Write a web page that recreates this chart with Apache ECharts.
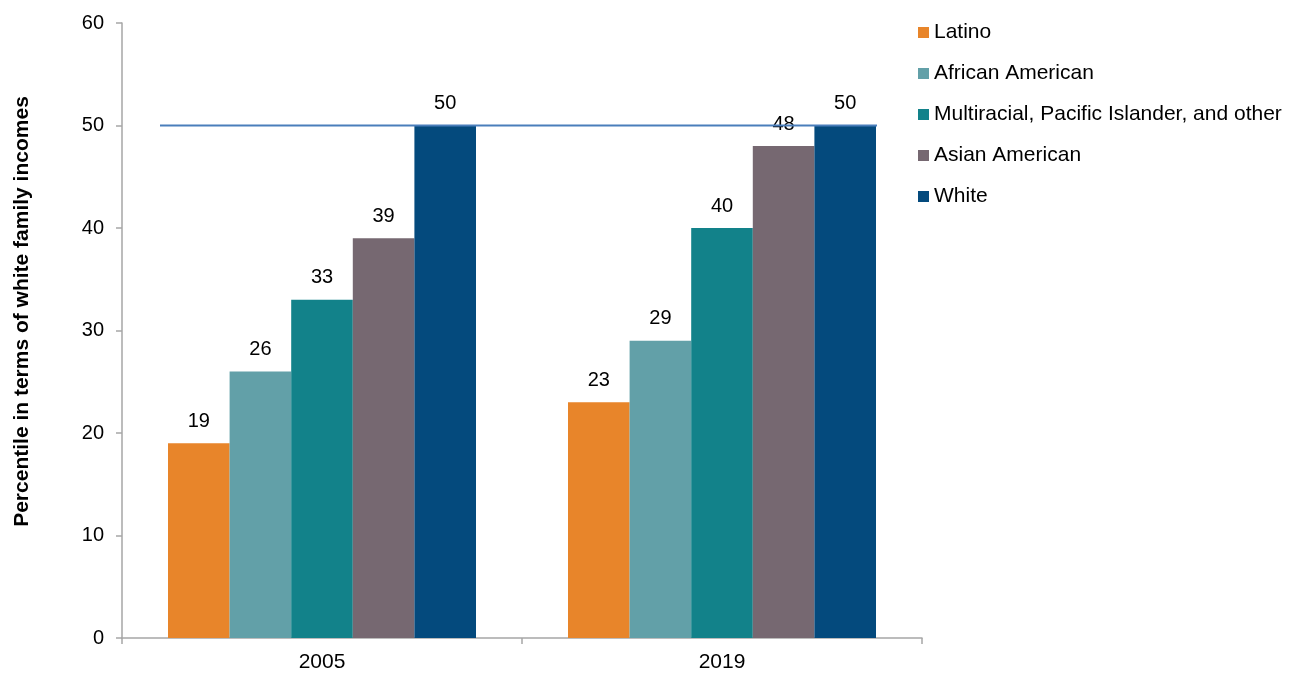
<!DOCTYPE html>
<html><head><meta charset="utf-8">
<script src="https://cdn.jsdelivr.net/npm/echarts@6/dist/echarts.min.js"></script>
<style>html,body{margin:0;padding:0;background:#fff}#c{width:1291px;height:673px}</style>
</head><body><div id="c"></div>
<script>
const years = ['2005', '2019'];
const seriesNames = ['Latino', 'African American', 'Multiracial, Pacific Islander, and other', 'Asian American', 'White'];
const latino = [19, 23];
const africanAmerican = [26, 29];
const multiracial = [33, 40];
const asianAmerican = [39, 48];
const white = [50, 50];
const yTicks = [0, 10, 20, 30, 40, 50, 60];
const referenceLevel = 50;
const referenceSpan = [-0.405, 1.3875];

const colors = ['#E8852A', '#62A0A8', '#12828A', '#766871', '#044A7D'];
const values = [latino, africanAmerican, multiracial, asianAmerican, white];
const font = 'Liberation Sans, Arial, sans-serif';

const chart = echarts.init(document.getElementById('c'), null, {renderer: 'canvas'});
const series = seriesNames.map((n, i) => ({
  name: n, type: 'bar', data: values[i], xAxisIndex: 0,
  barGap: '0%', barCategoryGap: '23%',
  itemStyle: {color: colors[i]},
  label: {show: true, position: 'top', distance: 12, color: '#000', fontSize: 20, fontFamily: font},
  z: 2
}));
series.push({
  type: 'line', xAxisIndex: 1, data: referenceSpan.map(x => [x, referenceLevel]),
  symbol: 'none', lineStyle: {color: '#4A7EBB', width: 2}, z: 5, silent: true
});

chart.setOption({
  animation: false,
  grid: {left: 122, right: 369, top: 23, bottom: 35, containLabel: false},
  legend: {
    data: seriesNames, orient: 'vertical', left: 913, top: 17,
    itemWidth: 11, itemHeight: 11, itemGap: 20, icon: 'rect',
    textStyle: {fontSize: 21, fontFamily: font, color: '#000', padding: [0, 0, 0, 0]}
  },
  xAxis: [{
    type: 'category', data: years,
    axisLine: {lineStyle: {color: '#A6A6A6', width: 1.5}},
    axisTick: {show: true, length: 6, lineStyle: {color: '#A6A6A6', width: 1.5}},
    axisLabel: {fontSize: 21, fontFamily: font, color: '#000', margin: 14}
  }, {
    type: 'value', min: -0.5, max: 1.5, show: false
  }],
  yAxis: {
    type: 'value', min: 0, max: 60, interval: 10,
    name: 'Percentile in terms of white family incomes',
    nameLocation: 'middle', nameGap: 89, nameRotate: 90,
    nameTextStyle: {fontSize: 21, fontWeight: 'bold', fontFamily: font, color: '#000', padding: [0, 0, 0, 38]},
    axisLine: {show: true, onZero: false, lineStyle: {color: '#A6A6A6', width: 1.5}},
    axisTick: {show: true, length: 6, lineStyle: {color: '#A6A6A6', width: 1.5}},
    splitLine: {show: false},
    axisLabel: {fontSize: 20, fontFamily: font, color: '#000', margin: 18,
      formatter: v => yTicks.includes(v) ? String(v) : ''}
  },
  series: series
});
</script></body></html>
